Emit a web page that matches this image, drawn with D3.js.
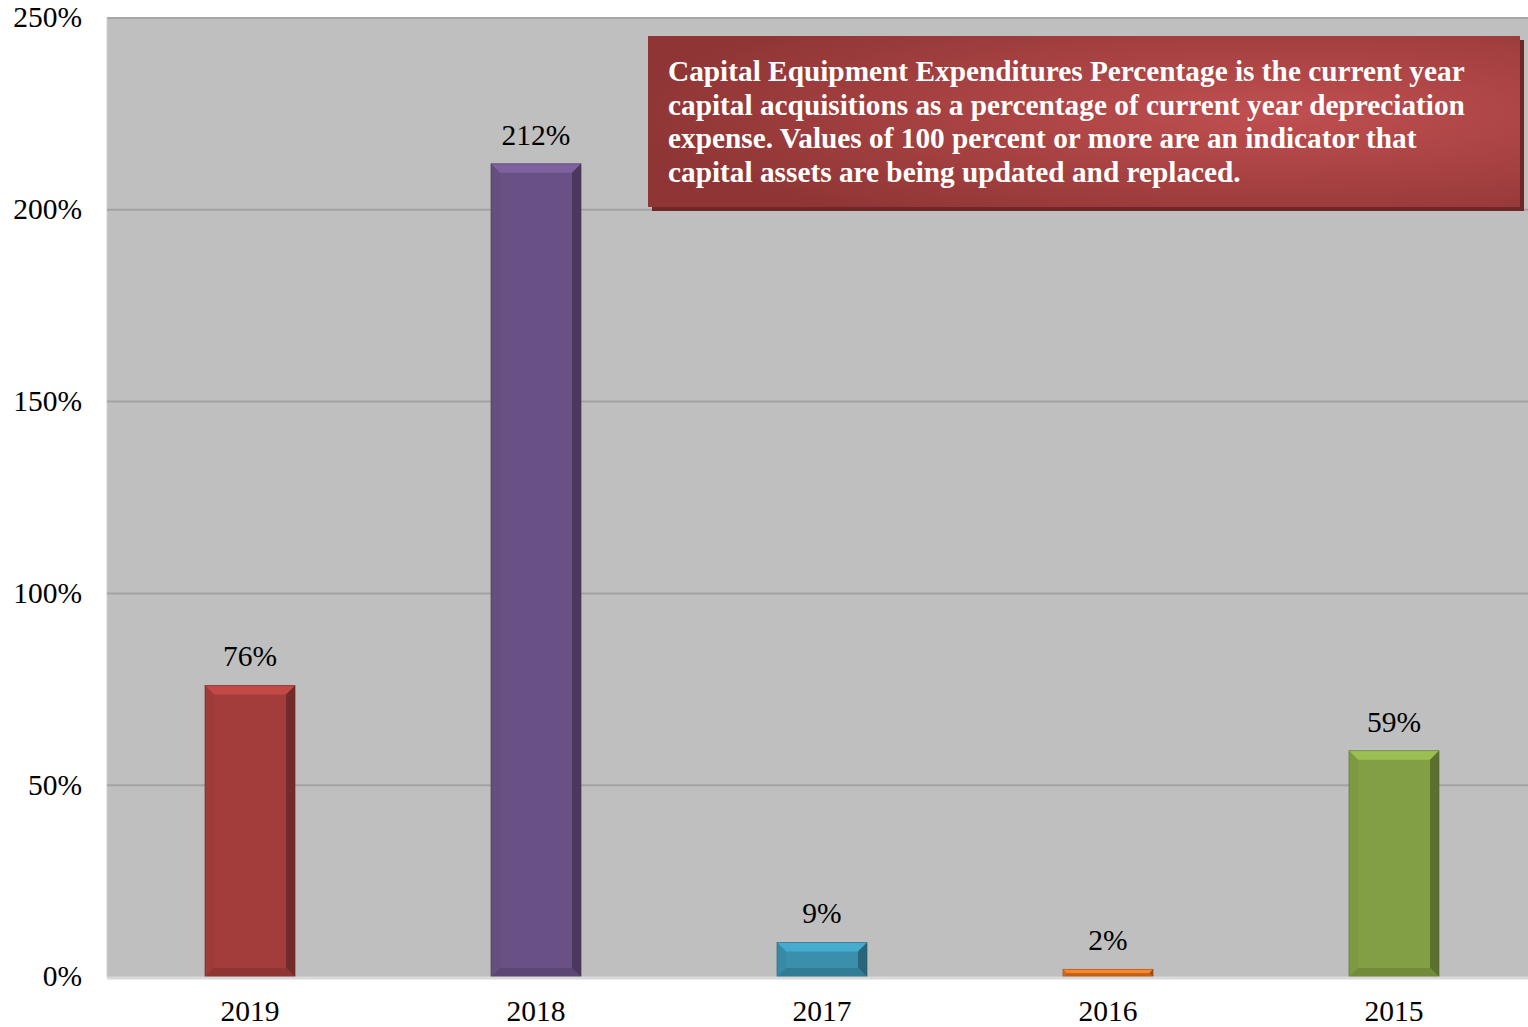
<!DOCTYPE html>
<html><head><meta charset="utf-8">
<script src="https://cdn.jsdelivr.net/npm/d3@7"></script>
<style>html,body{margin:0;padding:0;background:#fff;overflow:hidden}</style>
</head><body>
<svg id="c" width="1528" height="1027"></svg>
<script>
const categories = ["2019","2018","2017","2016","2015"];
const values = [76, 212, 9, 2, 59];
const barColors = ["#a33d3b","#6a5185","#3a8fad","#d96f22","#82a043"];
const yTicks = [0,50,100,150,200,250];
const noteLines = [
  "Capital Equipment Expenditures Percentage is the current year",
  "capital acquisitions as a percentage of current year depreciation",
  "expense. Values of 100 percent or more are an indicator that",
  "capital assets are being updated and replaced."
];

const svg = d3.select("#c");
const pLeft = 107, pRight = 1537, pTop = 18, pBottom = 977;
const x = d3.scaleBand().domain(categories).range([pLeft, pRight]).paddingInner(0.685).paddingOuter(0.3425);
const y = d3.scaleLinear().domain([0,250]).range([pBottom, pTop]);
const font = "'Liberation Serif','Times New Roman',serif";
const fs = 29.5;

const defs = svg.append("defs");
const rg = defs.append("radialGradient").attr("id","noteg").attr("cx","0.72").attr("cy","0.45").attr("r","0.75");
rg.append("stop").attr("offset","0").attr("stop-color","#c04f50");
rg.append("stop").attr("offset","1").attr("stop-color","#8f3535");

// plot bg
svg.append("rect").attr("x",pLeft).attr("y",pTop).attr("width",pRight-pLeft).attr("height",pBottom-pTop).attr("fill","#bfbfbf");
svg.append("line").attr("x1",pLeft).attr("x2",pRight).attr("y1",pTop).attr("y2",pTop).attr("stroke","#a6a6a6").attr("stroke-width",2);
svg.append("line").attr("x1",pLeft).attr("x2",pLeft).attr("y1",pTop).attr("y2",pBottom).attr("stroke","#d0d0d0").attr("stroke-width",1);

// gridlines
svg.append("g").selectAll("line").data(yTicks.filter(d=>d>0 && d<250)).join("line")
  .attr("x1",pLeft).attr("x2",pRight).attr("y1",d=>y(d)).attr("y2",d=>y(d))
  .attr("stroke","#a3a3a3").attr("stroke-width",2);

// y axis labels
const yAxis = d3.axisLeft(y).tickValues(yTicks).tickFormat(d=>d+"%").tickSize(0).tickPadding(0);
const yg = svg.append("g").attr("transform",`translate(82,0)`).call(yAxis);
yg.select(".domain").remove();
yg.selectAll("text").attr("font-family",font).attr("font-size",fs).attr("fill","#000").attr("dy","0.3em");

// bars with bevel
const bev = 9;
const bars = svg.append("g").selectAll("g").data(categories.map((c,i)=>({c, v:values[i], col:barColors[i]}))).join("g");
bars.each(function(d){
  const g = d3.select(this);
  const x0 = x(d.c), x1 = x0 + x.bandwidth(), y0 = y(d.v), y1 = y(0);
  const h = y1 - y0;
  const b = Math.min(bev, h/2);
  const base = d3.color(d.col);
  g.append("rect").attr("x",x0).attr("y",y0).attr("width",x1-x0).attr("height",h).attr("fill",d.col);
  const pt = a=>a.map(p=>p.join(",")).join(" ");
  g.append("polygon").attr("points",pt([[x0,y0],[x1,y0],[x1-b,y0+b],[x0+b,y0+b]])).attr("fill",base.brighter(0.5));
  g.append("polygon").attr("points",pt([[x0,y0],[x0+b,y0+b],[x0+b,y1-b],[x0,y1]])).attr("fill",base.darker(0.1));
  g.append("polygon").attr("points",pt([[x1,y0],[x1,y1],[x1-b,y1-b],[x1-b,y0+b]])).attr("fill",base.darker(1.0));
  g.append("polygon").attr("points",pt([[x0,y1],[x1,y1],[x1-b,y1-b],[x0+b,y1-b]])).attr("fill",base.darker(0.4));
  g.append("rect").attr("x",x0).attr("y",y0).attr("width",x1-x0).attr("height",h).attr("fill","none").attr("stroke",base.darker(1.3)).attr("stroke-width",0.8).attr("stroke-opacity",0.6);
  g.append("text").attr("x",(x0+x1)/2).attr("y",y0-19).attr("text-anchor","middle")
    .attr("font-family",font).attr("font-size",fs).attr("fill","#000").text(d.v+"%");
});

// x axis line
svg.append("line").attr("x1",pLeft).attr("x2",pRight).attr("y1",pBottom+1).attr("y2",pBottom+1).attr("stroke","#d9d9d9").attr("stroke-width",3);
const xAxis = d3.axisBottom(x).tickSize(0).tickPadding(0);
const xg = svg.append("g").attr("transform",`translate(0,${pBottom})`).call(xAxis);
xg.select(".domain").remove();
xg.selectAll("text").attr("font-family",font).attr("font-size",fs).attr("fill","#000").attr("dy",0).attr("y",44);

// note box
svg.append("rect").attr("x",652).attr("y",40).attr("width",872).attr("height",171).attr("fill","#6e2828");
svg.append("rect").attr("x",648).attr("y",36).attr("width",872).attr("height",171).attr("fill","url(#noteg)");
svg.append("g").selectAll("text").data(noteLines).join("text")
  .attr("x",668).attr("y",(d,i)=>81+i*33.7)
  .attr("font-family",font).attr("font-weight","bold").attr("font-size",29.3).attr("fill","#fff").text(d=>d);
</script>
</body></html>
